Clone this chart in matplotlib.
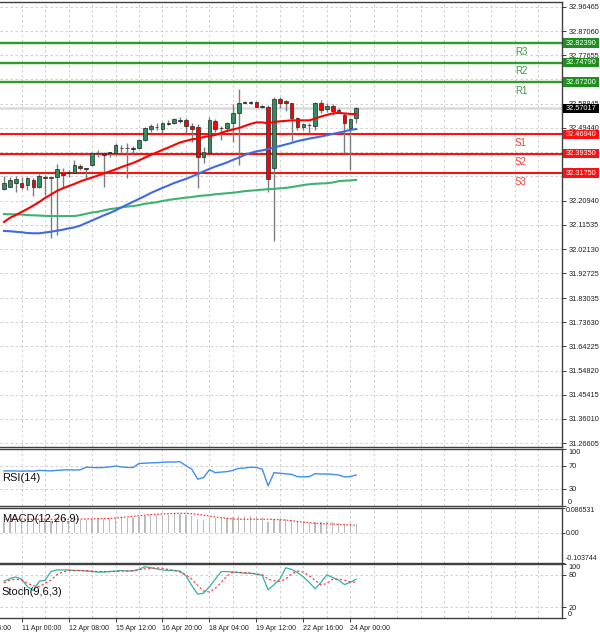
import numpy as np
import matplotlib.pyplot as plt
from matplotlib.patches import Rectangle
from matplotlib.transforms import blended_transform_factory

plt.rcParams['font.family'] = ['Liberation Sans', 'DejaVu Sans']

# 4H candles
opens = [32.254, 32.264, 32.279, 32.280, 32.271, 32.290, 32.264, 32.304, 32.299, 32.302,
         32.318, 32.316, 32.319, 32.345, 32.337, 32.349, 32.397, 32.397, 32.396, 32.394,
         32.417, 32.415, 32.413, 32.414, 32.446, 32.489, 32.497, 32.489, 32.510, 32.511,
         32.522, 32.524, 32.501, 32.496, 32.381, 32.397, 32.521, 32.493, 32.494, 32.514,
         32.553, 32.592, 32.593, 32.593, 32.577, 32.576, 32.336, 32.605, 32.599, 32.589,
         32.531, 32.496, 32.503, 32.501, 32.592, 32.566, 32.579, 32.563, 32.544, 32.492,
         32.531]
highs = [32.306, 32.301, 32.306, 32.301, 32.303, 32.297, 32.314, 32.310, 32.304, 32.353,
         32.336, 32.329, 32.368, 32.353, 32.339, 32.401, 32.407, 32.401, 32.401, 32.436,
         32.427, 32.436, 32.423, 32.449, 32.496, 32.507, 32.514, 32.518, 32.524, 32.531,
         32.535, 32.531, 32.511, 32.509, 32.420, 32.537, 32.527, 32.501, 32.518, 32.586,
         32.644, 32.597, 32.598, 32.597, 32.583, 32.583, 32.615, 32.615, 32.602, 32.592,
         32.537, 32.514, 32.511, 32.595, 32.602, 32.589, 32.586, 32.570, 32.550, 32.531,
         32.576]
lows = [32.250, 32.262, 32.245, 32.254, 32.251, 32.228, 32.258, 32.232, 32.064, 32.076,
        32.264, 32.303, 32.316, 32.329, 32.298, 32.345, 32.381, 32.263, 32.381, 32.384,
        32.401, 32.299, 32.394, 32.410, 32.442, 32.479, 32.485, 32.472, 32.505, 32.507,
        32.514, 32.472, 32.440, 32.258, 32.358, 32.394, 32.479, 32.446, 32.479, 32.440,
        32.349, 32.589, 32.586, 32.574, 32.572, 32.245, 32.054, 32.570, 32.560, 32.443,
        32.485, 32.485, 32.472, 32.485, 32.553, 32.556, 32.544, 32.550, 32.394, 32.329,
        32.511]
closes = [32.278, 32.290, 32.294, 32.264, 32.298, 32.264, 32.306, 32.300, 32.302, 32.333,
          32.310, 32.320, 32.349, 32.337, 32.335, 32.397, 32.395, 32.388, 32.398, 32.427,
          32.415, 32.417, 32.415, 32.446, 32.492, 32.501, 32.499, 32.511, 32.512, 32.527,
          32.524, 32.501, 32.489, 32.381, 32.401, 32.524, 32.488, 32.495, 32.514, 32.553,
          32.592, 32.594, 32.592, 32.576, 32.575, 32.293, 32.605, 32.592, 32.592, 32.531,
          32.498, 32.509, 32.505, 32.592, 32.563, 32.579, 32.559, 32.553, 32.511, 32.527,
          32.570]

ma_red = [32.127, 32.143, 32.154, 32.166, 32.178, 32.191, 32.205, 32.221, 32.234, 32.248,
          32.258, 32.267, 32.275, 32.285, 32.293, 32.300, 32.308, 32.316, 32.324, 32.332,
          32.341, 32.349, 32.357, 32.367, 32.378, 32.388, 32.398, 32.408, 32.417, 32.427,
          32.437, 32.443, 32.449, 32.452, 32.458, 32.462, 32.466, 32.474, 32.482, 32.487,
          32.493, 32.501, 32.509, 32.515, 32.515, 32.511, 32.517, 32.519, 32.521, 32.523,
          32.523, 32.523, 32.523, 32.530, 32.538, 32.544, 32.550, 32.552, 32.550, 32.548,
          32.547]
ma_blue = [32.092, 32.091, 32.089, 32.087, 32.084, 32.083, 32.083, 32.086, 32.089, 32.093,
           32.097, 32.102, 32.106, 32.113, 32.123, 32.133, 32.143, 32.153, 32.162, 32.172,
           32.184, 32.195, 32.206, 32.217, 32.228, 32.240, 32.250, 32.260, 32.269, 32.279,
           32.287, 32.295, 32.304, 32.314, 32.324, 32.334, 32.343, 32.351, 32.359, 32.369,
           32.378, 32.388, 32.396, 32.402, 32.406, 32.411, 32.417, 32.423, 32.429, 32.435,
           32.442, 32.447, 32.452, 32.456, 32.460, 32.465, 32.470, 32.475, 32.480, 32.486,
           32.489]
ma_green = [32.158, 32.157, 32.157, 32.156, 32.154, 32.153, 32.152, 32.151, 32.150, 32.150,
            32.150, 32.150, 32.150, 32.154, 32.159, 32.164, 32.167, 32.172, 32.177, 32.180,
            32.184, 32.187, 32.189, 32.193, 32.198, 32.201, 32.204, 32.209, 32.213, 32.216,
            32.219, 32.222, 32.224, 32.228, 32.230, 32.232, 32.235, 32.237, 32.239, 32.241,
            32.244, 32.247, 32.249, 32.251, 32.253, 32.255, 32.256, 32.258, 32.260, 32.263,
            32.267, 32.271, 32.274, 32.276, 32.277, 32.278, 32.281, 32.286, 32.288, 32.289,
            32.291]

rsi = [61, 61, 61, 60.5, 61, 60.5, 62, 61.5, 61, 62,
       62.5, 63, 62.5, 63, 67.5, 67, 66.7, 67, 68, 69.5,
       68, 67, 67, 74, 74.5, 75, 75.3, 76, 76.5, 76.5,
       77, 70, 64, 46.6, 49.4, 63, 58, 59, 59.8, 62,
       65.5, 66, 67.5, 67, 64, 35, 58, 57, 56, 55,
       51, 50.6, 51, 56.3, 55.5, 55.8, 55, 54, 50.6, 51,
       54]
macd_main = [0.038, 0.039, 0.040, 0.039, 0.041, 0.040, 0.042, 0.042, 0.040, 0.042,
             0.041, 0.041, 0.043, 0.043, 0.042, 0.046, 0.047, 0.046, 0.047, 0.050,
             0.050, 0.050, 0.050, 0.052, 0.057, 0.059, 0.060, 0.061, 0.062, 0.063,
             0.063, 0.061, 0.058, 0.048, 0.045, 0.051, 0.050, 0.049, 0.050, 0.053,
             0.057, 0.058, 0.058, 0.056, 0.054, 0.035, 0.047, 0.047, 0.046, 0.041,
             0.036, 0.035, 0.034, 0.038, 0.037, 0.037, 0.035, 0.034, 0.030, 0.029,
             0.030]
macd_signal = [0.046, 0.046, 0.046, 0.046, 0.046, 0.046, 0.046, 0.046, 0.046, 0.046,
               0.046, 0.046, 0.046, 0.046, 0.047, 0.047, 0.048, 0.048, 0.049, 0.050,
               0.052, 0.054, 0.056, 0.058, 0.060, 0.062, 0.063, 0.064, 0.065, 0.066,
               0.067, 0.066, 0.065, 0.063, 0.060, 0.057, 0.054, 0.051, 0.049, 0.047,
               0.046, 0.046, 0.046, 0.046, 0.046, 0.046, 0.045, 0.044, 0.043, 0.041,
               0.038, 0.036, 0.034, 0.032, 0.031, 0.030, 0.029, 0.028, 0.027, 0.026,
               0.025]
stoch_k = [68, 73, 76, 72, 58, 51, 68, 70, 86, 89,
           89, 89, 88, 88, 87, 86, 85, 85, 86, 87,
           88, 87, 87, 90, 95, 93, 91, 89, 88, 88,
           87, 78, 60, 44, 46, 58, 72, 86, 86, 85,
           84, 83, 83, 81, 79, 52, 62, 72, 93, 90,
           84, 76, 66, 54, 66, 80, 75, 70, 62, 66,
           72]
stoch_d = [65, 70, 72, 70, 64, 60, 58, 64, 70, 80,
           85, 88, 88, 88, 88, 87, 86, 86, 86, 86,
           87, 87, 88, 89, 91, 92, 93, 92, 90, 88,
           85, 80, 72, 60, 50, 48, 55, 66, 78, 85,
           85, 84, 83, 82, 80, 72, 69, 68, 72, 82,
           87, 85, 78, 70, 61, 64, 72, 72, 70, 67,
           66]

res_names = ['R1', 'R2', 'R3']
res_levels = [32.67200, 32.74790, 32.82390]
sup_names = ['S1', 'S2', 'S3']
sup_levels = [32.46940, 32.39350, 32.31750]
last_price = 32.57017

price_ticks = [32.96465, 32.87060, 32.77655, 32.68250, 32.58845, 32.49440, 32.40035,
               32.30630, 32.20940, 32.11535, 32.02130, 31.92725, 31.83035, 31.73630,
               31.64225, 31.54820, 31.45415, 31.36010, 31.26605]
date_idx = [-5, 3, 11, 19, 27, 35, 43, 51, 59]
date_labels = ['9 Apr 16:00', '11 Apr 00:00', '12 Apr 08:00', '15 Apr 12:00', '16 Apr 20:00',
               '18 Apr 04:00', '19 Apr 12:00', '22 Apr 16:00', '24 Apr 00:00']

o = np.array(opens); h = np.array(highs); l = np.array(lows); c = np.array(closes)
x = np.arange(len(o))

W, H = 600, 633
fig = plt.figure(figsize=(W / 100, H / 100), dpi=100)


def panel(top, bot):
    return fig.add_axes([0, 1 - bot / H, 562 / W, (bot - top) / H])


ax = panel(2, 447)
ax_rsi = panel(448.5, 506)
ax_macd = panel(507.5, 562.5)
ax_st = panel(564, 618)

grid = dict(color='#c8c8c8', lw=0.6, ls=(0, (3, 3)), zorder=0)


def frame(a, lo, hi):
    a.set_xlim(-0.68, 95.06)
    a.set_ylim(lo, hi)
    a.spines['left'].set_visible(False)
    for s in ['top', 'bottom', 'right']:
        a.spines[s].set_color('#404040')
        a.spines[s].set_linewidth(1.0)
    a.yaxis.tick_right()
    a.tick_params(axis='y', labelsize=5.3, length=3, width=0.6, pad=1.5, colors='#202020')
    a.set_xticks([])
    for g in np.arange(3, 96, 4):
        a.axvline(g, **grid)


# main chart
frame(ax, 31.2505, 32.984)
ax.set_yticks(price_ticks)
ax.set_yticklabels([f'{v:.5f}' for v in price_ticks])
for v in price_ticks:
    ax.axhline(v, **grid)

ax.axhline(last_price, color='#dadada', lw=1.8, zorder=0.5)
for lv in res_levels:
    ax.axhline(lv, color='#2e9a2e', lw=1.7, zorder=1.5)
for lv in sup_levels:
    ax.axhline(lv, color='#ff1010', lw=1.5, zorder=1.5)

ax.vlines(x, l, h, color='#7c7c7c', lw=1.0, zorder=2)
body_lo = np.minimum(o, c)
body_h = np.maximum(np.abs(c - o), 0.0012)
cols = np.where(np.abs(c - o) < 0.003, '#202020', np.where(c > o, '#2f8f5f', '#ff0000'))
ax.bar(x, body_h, bottom=body_lo, width=0.62, color=cols, edgecolor='#262626', lw=0.5, zorder=2.2)

ax.plot(x, ma_green, color='#3cb371', lw=1.5, zorder=3)
ax.plot(x, ma_blue, color='#4169e1', lw=1.5, zorder=3)
ax.plot(x, ma_red, color='#ff0000', lw=1.5, zorder=3)

tr = blended_transform_factory(ax.transAxes, ax.transData)
px = 1 / 562                       # one pixel in axes units
py = (32.984 - 31.2505) / 445      # one pixel in price units


def price_box(val, fc):
    ax.add_patch(Rectangle((1 + 1.2 * px, val - 4.6 * py), 36 * px, 9.2 * py, transform=tr,
                           fc=fc, ec='none', clip_on=False, zorder=5))
    ax.text(1 + 19 * px, val, f'{val:.5f}', transform=tr, ha='center', va='center',
            fontsize=5.3, color='white', clip_on=False, zorder=6)


for name, lv in zip(res_names, res_levels):
    ax.annotate(name, (0.927, lv), xycoords=tr, xytext=(0, -2.5), textcoords='offset points',
                ha='center', va='top', fontsize=7, color='#3c9c3c')
    price_box(lv, '#1f8f1f')
for name, lv in zip(sup_names, sup_levels):
    ax.annotate(name, (0.927, lv), xycoords=tr, xytext=(0, -2.5), textcoords='offset points',
                ha='center', va='top', fontsize=7, color='#ff3c3c')
    price_box(lv, '#ff1010')
price_box(last_price, 'black')


def edge_labels(a, top_val, bot_val):
    for lb in a.yaxis.get_majorticklabels():
        v = lb.get_position()[1]
        if v == top_val:
            lb.set_va('top')
        elif v == bot_val:
            lb.set_va('bottom')


# RSI
frame(ax_rsi, 0, 100)
ax_rsi.set_yticks([0, 30, 70, 100])
for v in (30, 70):
    ax_rsi.axhline(v, **grid)
ax_rsi.plot(x, rsi, color='#3d8ef0', lw=1.0)
ax_rsi.text(0.003, 0.49, 'RSI(14)', transform=ax_rsi.transAxes, fontsize=8, va='center', color='#111111')
edge_labels(ax_rsi, 100, 0)

# MACD
macd_top, macd_bot = 0.086531, -0.103744
frame(ax_macd, macd_bot, macd_top)
ax_macd.set_yticks([macd_bot, 0, macd_top])
ax_macd.set_yticklabels([f'{macd_bot:.6f}', '0.00', f'{macd_top:.6f}'])
ax_macd.tick_params(axis='y', labelsize=5, length=2, pad=0.5)
ax_macd.axhline(0, **grid)
ax_macd.bar(x, macd_main, width=0.22, color='#bcbcbc', zorder=2)
ax_macd.plot(x, macd_signal, color='#ff2020', lw=0.8, ls=(0, (1.5, 1.5)), zorder=3)
ax_macd.text(0.003, 0.79, 'MACD(12,26,9)', transform=ax_macd.transAxes, fontsize=8, va='center',
             color='#111111', zorder=4)
edge_labels(ax_macd, macd_top, macd_bot)

# Stochastic
frame(ax_st, 0, 100)
ax_st.set_yticks([0, 20, 80, 100])
for v in (20, 80):
    ax_st.axhline(v, **grid)
ax_st.plot(x, stoch_k, color='#30b4a4', lw=0.9, zorder=3)
ax_st.plot(x, stoch_d, color='#ff3030', lw=0.8, ls=(0, (2, 2)), zorder=3)
ax_st.text(0.003, 0.48, 'Stoch(9,6,3)', transform=ax_st.transAxes, fontsize=8, va='center', color='#111111')
edge_labels(ax_st, 100, 0)

vis = [(i, s) for i, s in zip(date_idx, date_labels) if i >= -0.68]
ax_st.set_xticks([i for i, _ in vis])
ax_st.set_xticklabels([s for _, s in vis], fontsize=5, ha='left')
ax_st.tick_params(axis='x', length=3, width=0.6, pad=2, colors='#202020')
for i, s in zip(date_idx, date_labels):
    if i < -0.68:
        ax_st.text(i, -0.13, s, transform=blended_transform_factory(ax_st.transData, ax_st.transAxes),
                   fontsize=5, ha='left', va='top', color='#202020', clip_on=False)

fig.savefig('out.png', dpi=100)
